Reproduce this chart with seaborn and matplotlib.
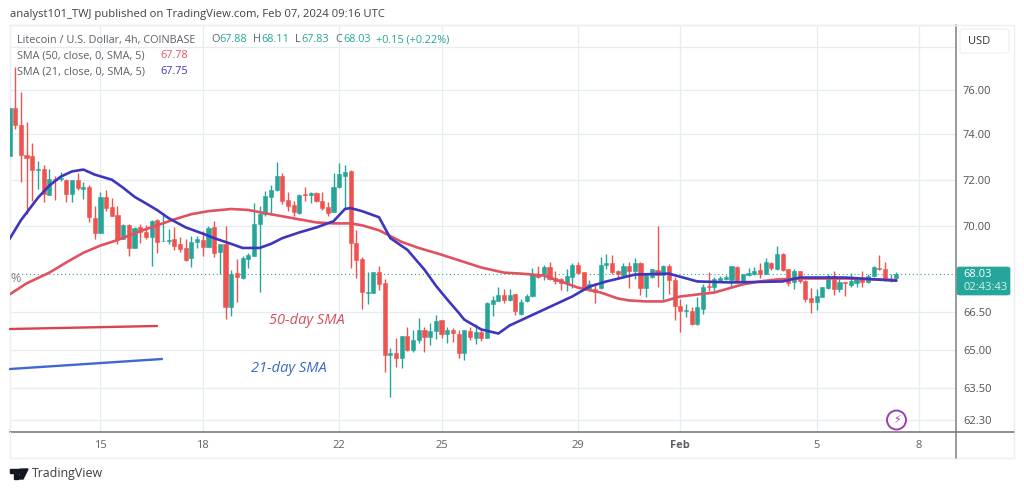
import numpy as np
import pandas as pd
import seaborn as sns
import matplotlib
matplotlib.use("Agg")
import matplotlib.pyplot as plt
from matplotlib.lines import Line2D
from matplotlib.patches import FancyBboxPatch, Ellipse, Polygon, Rectangle
from matplotlib.ticker import FixedLocator, FixedFormatter, NullLocator

# 4h candles
open_ = [73.05, 75.17, 74.41, 73.09, 73.04, 72.42, 72.47, 71.35, 72.03, 72.03,
         72.00, 71.40, 71.98, 71.60, 71.68, 70.35, 69.74, 71.27, 70.83, 70.50,
         69.46, 70.07, 69.09, 69.96, 69.78, 69.55, 70.26, 69.38, 69.40, 69.47,
         69.25, 69.10, 68.69, 69.36, 69.44, 69.14, 69.99, 68.92, 69.28, 66.67,
         68.07, 67.87, 68.66, 68.78, 70.12, 70.53, 71.25, 71.56, 72.15, 71.12,
         70.90, 70.55, 71.39, 71.32, 71.41, 71.09, 70.81, 70.62, 71.67, 72.17,
         72.36, 69.29, 68.64, 67.26, 67.26, 68.10, 67.66, 64.77, 64.87, 64.68,
         65.52, 64.99, 65.38, 65.77, 65.50, 65.73, 66.15, 65.63, 65.78, 65.61,
         64.87, 65.74, 65.44, 65.70, 65.46, 66.81, 66.94, 67.17, 66.96, 67.19,
         66.40, 66.91, 67.11, 68.04, 68.01, 68.31, 67.88, 67.80, 67.67, 67.90,
         68.39, 68.10, 67.39, 67.40, 67.44, 68.39, 68.46, 68.15, 67.97, 68.35,
         68.14, 68.46, 67.44, 67.90, 68.17, 68.00, 68.35, 67.79, 66.74, 66.51,
         66.51, 66.00, 66.62, 67.54, 67.49, 67.78, 67.82, 67.79, 68.31, 67.73,
         67.99, 68.01, 68.17, 68.04, 68.49, 68.24, 68.83, 68.21, 67.68, 68.13,
         67.73, 67.06, 66.88, 67.10, 67.44, 67.93, 67.40, 67.71, 67.57, 67.64,
         67.84, 67.70, 67.93, 68.28, 68.25, 67.77, 67.88]
high = [75.17, 77.07, 75.91, 74.53, 73.60, 72.80, 72.62, 72.47, 72.18, 72.32,
        72.05, 72.00, 72.29, 71.90, 71.77, 70.87, 71.45, 71.55, 71.20, 70.87,
        70.12, 70.10, 69.96, 70.10, 70.07, 70.26, 70.30, 70.55, 69.89, 69.96,
        69.55, 69.47, 69.61, 69.61, 69.80, 70.03, 70.25, 69.24, 70.00, 68.20,
        68.64, 68.75, 68.89, 71.00, 70.87, 71.52, 71.77, 72.75, 72.29, 71.45,
        71.09, 71.38, 71.67, 71.48, 71.45, 71.48, 71.04, 72.29, 72.72, 72.64,
        72.41, 69.86, 68.71, 68.11, 68.10, 68.35, 67.83, 65.04, 65.45, 65.52,
        65.90, 65.75, 66.24, 65.87, 66.03, 66.35, 66.17, 65.87, 65.85, 65.75,
        65.78, 65.87, 66.00, 65.81, 66.90, 67.11, 67.51, 67.42, 67.42, 67.20,
        67.02, 67.20, 68.28, 68.35, 68.38, 68.50, 68.14, 67.88, 68.25, 68.49,
        68.53, 68.11, 67.78, 67.64, 68.74, 68.84, 68.81, 68.20, 68.46, 68.53,
        68.70, 68.53, 68.07, 68.25, 70.03, 68.39, 68.43, 67.90, 67.00, 66.80,
        66.69, 67.07, 67.62, 68.11, 67.90, 67.93, 67.97, 68.35, 68.35, 68.04,
        68.29, 68.32, 68.46, 68.67, 68.53, 69.19, 68.88, 68.21, 68.21, 68.15,
        67.76, 67.44, 67.40, 67.50, 68.04, 68.15, 67.90, 67.71, 68.07, 67.90,
        68.13, 68.04, 68.35, 68.82, 68.53, 68.04, 68.11]
low = [73.00, 74.22, 71.91, 70.51, 71.09, 71.60, 71.04, 71.35, 71.13, 71.95,
       71.04, 71.04, 71.56, 71.17, 70.20, 69.48, 69.74, 70.65, 70.43, 69.25,
       69.46, 68.78, 69.09, 69.29, 69.46, 68.34, 68.89, 69.38, 69.25, 69.03,
       68.92, 68.54, 68.30, 69.10, 68.75, 69.12, 68.72, 68.03, 66.20, 66.34,
       66.87, 67.82, 68.26, 68.75, 67.30, 70.46, 70.50, 71.52, 70.94, 70.65,
       70.46, 70.53, 71.09, 70.99, 71.05, 70.70, 70.43, 70.62, 71.62, 70.75,
       68.29, 67.88, 66.59, 66.79, 67.26, 67.37, 64.12, 63.15, 64.31, 64.28,
       64.93, 64.91, 65.26, 64.91, 65.16, 65.43, 65.45, 65.25, 65.31, 64.66,
       64.61, 65.39, 65.22, 65.35, 65.44, 66.33, 66.92, 66.83, 66.93, 66.35,
       66.37, 66.87, 67.10, 67.88, 67.78, 67.78, 67.62, 67.36, 67.32, 67.46,
       68.01, 67.38, 67.32, 66.83, 67.40, 68.25, 68.04, 67.84, 67.95, 67.44,
       67.84, 67.15, 67.07, 67.88, 67.48, 66.98, 67.23, 66.18, 65.70, 66.27,
       65.98, 65.98, 66.42, 67.32, 67.29, 67.74, 67.76, 67.49, 67.65, 67.71,
       67.93, 67.97, 67.88, 68.01, 68.18, 68.18, 68.15, 67.55, 67.42, 67.65,
       66.90, 66.46, 66.57, 67.08, 67.40, 67.17, 67.30, 67.14, 67.48, 67.50,
       67.50, 67.66, 67.90, 68.20, 67.75, 67.70, 67.83]
close = [75.17, 74.43, 73.08, 72.94, 72.42, 72.48, 71.38, 72.03, 71.97, 72.08,
         71.38, 71.98, 71.62, 71.68, 70.41, 69.74, 71.27, 70.78, 70.46, 69.46,
         70.08, 69.09, 69.95, 69.75, 69.54, 70.23, 69.35, 69.40, 69.44, 69.17,
         69.06, 68.62, 69.35, 69.47, 69.14, 69.93, 68.91, 69.25, 66.70, 68.03,
         67.90, 68.67, 68.81, 70.12, 70.53, 71.29, 71.56, 72.15, 71.09, 70.87,
         70.62, 71.36, 71.35, 71.42, 71.07, 70.78, 70.55, 71.70, 72.23, 72.32,
         69.30, 68.58, 67.28, 67.30, 68.10, 67.60, 64.79, 64.87, 64.68, 65.52,
         64.99, 65.38, 65.77, 65.50, 65.73, 66.12, 65.63, 65.78, 65.65, 64.87,
         65.78, 65.48, 65.70, 65.44, 66.86, 66.97, 67.17, 66.96, 67.17, 66.53,
         66.90, 67.14, 68.04, 67.90, 68.31, 67.82, 67.74, 67.64, 67.93, 68.39,
         68.07, 67.41, 67.61, 67.30, 68.39, 68.46, 68.11, 68.01, 68.35, 68.15,
         68.46, 67.46, 67.97, 68.21, 68.00, 68.35, 67.76, 66.73, 66.53, 66.56,
         66.00, 66.69, 67.51, 67.51, 67.80, 67.86, 67.89, 68.35, 67.72, 68.01,
         68.07, 68.14, 68.04, 68.50, 68.27, 68.83, 68.18, 67.65, 68.14, 67.72,
         67.02, 66.88, 67.13, 67.48, 67.95, 67.40, 67.71, 67.67, 67.74, 67.83,
         67.71, 67.93, 68.32, 68.22, 67.77, 67.84, 68.03]

sma50_idx = [0, 3, 7, 10, 13, 16, 19, 23, 26, 29, 32, 35, 39, 42, 45, 48, 51, 54, 57,
             60, 62, 65, 69, 72, 76, 83, 87, 90, 94, 97, 100, 104, 107, 109, 112, 115,
             118, 121, 124, 129, 132, 135, 139, 147, 156]
sma50 = [67.19, 67.64, 68.08, 68.50, 68.90, 69.20, 69.43, 69.80, 70.05, 70.30,
         70.52, 70.65, 70.74, 70.70, 70.56, 70.43, 70.30, 70.17, 70.13, 70.13,
         70.05, 69.84, 69.35, 69.10, 68.82, 68.29, 68.08, 68.04, 67.96, 67.72,
         67.47, 67.27, 67.03, 66.95, 66.91, 66.91, 67.11, 67.19, 67.27, 67.60,
         67.72, 67.80, 67.84, 67.84, 67.78]
sma21_idx = [0, 2, 5, 7, 9, 11, 13, 15, 18, 20, 22, 24, 26, 28, 31, 34, 36, 39, 41, 44,
             46, 48, 51, 54, 57, 59, 60, 62, 65, 67, 70, 73, 75, 77, 79, 80, 83, 86, 88,
             94, 99, 102, 105, 110, 116, 121, 127, 136, 139, 147, 156]
sma21 = [69.47, 70.26, 71.22, 71.74, 72.13, 72.36, 72.44, 72.22, 72.00, 71.65,
         71.26, 70.98, 70.69, 70.35, 69.96, 69.70, 69.51, 69.27, 69.10, 69.10,
         69.27, 69.51, 69.75, 69.96, 70.22, 70.74, 70.78, 70.65, 70.39, 69.51,
         69.02, 68.20, 67.55, 66.99, 66.46, 66.18, 65.79, 65.63, 65.95, 66.58,
         67.11, 67.51, 67.72, 68.00, 68.04, 67.72, 67.68, 67.72, 67.88, 67.88, 67.75]

price_ticks = [62.3, 63.5, 65, 66.5, 70, 72, 74, 76, 78]
price_labels = ["62.30", "63.50", "65.00", "66.50", "70.00", "72.00", "74.00", "76.00", ""]
date_ticks = ["2024-01-15", "2024-01-18", "2024-01-22", "2024-01-25", "2024-01-29",
              "2024-02-01", "2024-02-05", "2024-02-08"]
date_labels = ["15", "18", "22", "25", "29", "Feb", "5", "8"]
last_price = 68.03

TEAL = "#26a69a"
RED = "#ef5350"
GRID = "#e6edf0"
GREY = "#5d6066"
W, H = 1024, 491


def fx(x):
    return x / W


def fy(y):
    return 1 - y / H


sns.set_theme(style="white")
plt.rcParams["font.family"] = ["Open Sans", "DejaVu Sans"]

dates = pd.date_range("2024-01-12 08:00", periods=len(open_), freq="4h")
df = pd.DataFrame({"date": dates, "open": open_, "high": high, "low": low, "close": close})
up = df["close"] >= df["open"]
colors = np.where(up, TEAL, RED)
bar_w = pd.Timedelta(hours=2.9)

fig = plt.figure(figsize=(W / 100, H / 100), dpi=100, facecolor="white")
ax = fig.add_axes([fx(10), fy(432), fx(946), (432 - 25) / H])

ax.set_yscale("log")
ax.vlines(df["date"], df["low"], df["high"], colors=colors, linewidth=1.0, zorder=3)
ax.bar(df["date"], (df["close"] - df["open"]).abs(),
       bottom=df[["open", "close"]].min(axis=1), width=bar_w,
       color=colors, edgecolor=colors, linewidth=0.4, zorder=4)

sma_50 = pd.DataFrame({"date": dates[sma50_idx], "value": sma50})
sma_21 = pd.DataFrame({"date": dates[sma21_idx], "value": sma21})
sns.lineplot(data=sma_50, x="date", y="value", color="#e0525f", linewidth=1.9, ax=ax, zorder=5)
sns.lineplot(data=sma_21, x="date", y="value", color="#3e36bd", linewidth=1.9, ax=ax, zorder=5)

ax.axhline(last_price, color=TEAL, linestyle=(0, (1, 2.5)), linewidth=0.8, zorder=2)

step = pd.Timedelta(hours=4)
ax.set_xlim(dates[0] + 0.09 * step, dates[0] + 166.5 * step)
ax.set_ylim(61.85, 79.03)

ax.yaxis.tick_right()
ax.yaxis.set_major_locator(FixedLocator(price_ticks))
ax.yaxis.set_major_formatter(FixedFormatter(price_labels))
ax.yaxis.set_minor_locator(NullLocator())
ax.set_xticks(pd.to_datetime(date_ticks))
ax.set_xticklabels(date_labels)
ax.set_xlabel("")
ax.set_ylabel("")
ax.tick_params(axis="y", length=0, pad=5, labelsize=8, labelcolor="#4e5156")
ax.tick_params(axis="x", length=0, pad=6, labelsize=8, labelcolor="#5d6066")
ax.get_xticklabels()[5].set_fontweight("bold")
ax.grid(True, color=GRID, linewidth=0.9)
ax.set_axisbelow(True)
for side in ["top", "left"]:
    ax.spines[side].set_color("#eceff1")
    ax.spines[side].set_linewidth(1)
ax.spines["right"].set_color("#7a7d80")
ax.spines["right"].set_linewidth(1.1)
ax.spines["bottom"].set_color("#6f7275")
ax.spines["bottom"].set_linewidth(1.1)

# frame around the price and time scales
fig.add_artist(Line2D([fx(10), fx(1014)], [fy(25), fy(25)], color="#eceff1", lw=1))
fig.add_artist(Line2D([fx(1014), fx(1014)], [fy(25), fy(458)], color="#eceff1", lw=1))
fig.add_artist(Line2D([fx(10), fx(1014)], [fy(458), fy(458)], color="#eceff1", lw=1))
fig.add_artist(Line2D([fx(10), fx(10)], [fy(432), fy(458)], color="#eceff1", lw=1))
fig.add_artist(Line2D([fx(956), fx(1014)], [fy(432), fy(432)], color="#6f7275", lw=1.1))
fig.add_artist(Line2D([fx(956), fx(956)], [fy(432), fy(458)], color="#7a7d80", lw=1.1))

fig.text(fx(10), fy(14), "analyst101_TWJ published on TradingView.com, Feb 07, 2024 09:16 UTC",
         fontsize=8.1, color="#3f4246", va="center")

# legend rows, one run of text at a time
row1 = [(17, "Litecoin / U.S. Dollar, 4h, COINBASE", GREY), (211, "O", GREY), (219, "67.88", TEAL),
        (253, "H", GREY), (261, "68.11", TEAL), (295, "L", GREY), (301, "67.83", TEAL),
        (335, "C", GREY), (343, "68.03", TEAL), (376, "+0.15 (+0.22%)", TEAL)]
for x, s, c in row1:
    fig.text(fx(x), fy(40), s, fontsize=7.8, color=c, va="center")
fig.text(fx(17), fy(56), "SMA (50, close, 0, SMA, 5)", fontsize=7.8, color=GREY, va="center")
fig.text(fx(160), fy(56), "67.78", fontsize=7.8, color="#e0525f", va="center")
fig.text(fx(17), fy(72), "SMA (21, close, 0, SMA, 5)", fontsize=7.8, color=GREY, va="center")
fig.text(fx(160), fy(72), "67.75", fontsize=7.8, color="#3e36bd", va="center")
fig.text(fx(10), fy(279), "%", fontsize=9, color="#808488", va="center")

# hand drawn notes
fig.add_artist(Line2D([fx(10), fx(157)], [fy(329), fy(326)], color="#d8434f", lw=1.7, zorder=6))
fig.add_artist(Line2D([fx(10), fx(162)], [fy(369), fy(359)], color="#3f68d4", lw=1.7, zorder=6))
fig.text(fx(269), fy(320), "50-day SMA", fontsize=10.5, style="italic", color="#d4505c", va="center")
fig.text(fx(251), fy(368), "21-day SMA", fontsize=10.5, style="italic", color="#3f68c4", va="center")

# USD button and last price tag
fig.add_artist(FancyBboxPatch((fx(960), fy(53)), fx(49), 24 / H, boxstyle="round,pad=0,rounding_size=0.004",
                              transform=fig.transFigure, facecolor="white", edgecolor="#f0f2f3", lw=1))
fig.text(fx(968), fy(41), "USD", fontsize=8, color="#2f3236", va="center")
fig.add_artist(FancyBboxPatch((fx(957), fy(295)), fx(53), 28 / H, boxstyle="round,pad=0,rounding_size=0.003",
                              transform=fig.transFigure, facecolor=TEAL, edgecolor=TEAL, lw=0.5, zorder=7))
fig.text(fx(963), fy(274.5), "68.03", fontsize=8, color="white", va="center", zorder=8)
fig.text(fx(963), fy(288), "02:43:43", fontsize=8, color="#d5efec", va="center", zorder=8)

# lightning badge
fig.add_artist(Ellipse((fx(896.5), fy(420)), 19 / W, 19 / H, transform=fig.transFigure, facecolor="white",
                       edgecolor="#9c3fb0", lw=1.4))
fig.text(fx(896.5), fy(420), "\u26a1", fontsize=8, family="DejaVu Sans", color="#9c3fb0", ha="center", va="center")

# TradingView logo
fig.add_artist(Rectangle((fx(10), fy(473)), fx(9), 4 / H, transform=fig.transFigure, color="#131722"))
fig.add_artist(Rectangle((fx(14), fy(479)), fx(4), 6 / H, transform=fig.transFigure, color="#131722"))
fig.add_artist(Ellipse((fx(21), fy(471)), 4 / W, 4 / H, transform=fig.transFigure, color="#131722"))
fig.add_artist(Polygon([(fx(23), fy(469)), (fx(28), fy(469)), (fx(23), fy(479)), (fx(18), fy(479))],
                       transform=fig.transFigure, color="#131722"))
fig.text(fx(32), fy(474), "TradingView", fontsize=8.9, color="#3a3d42", va="center")

fig.savefig("out.png", dpi=100)
